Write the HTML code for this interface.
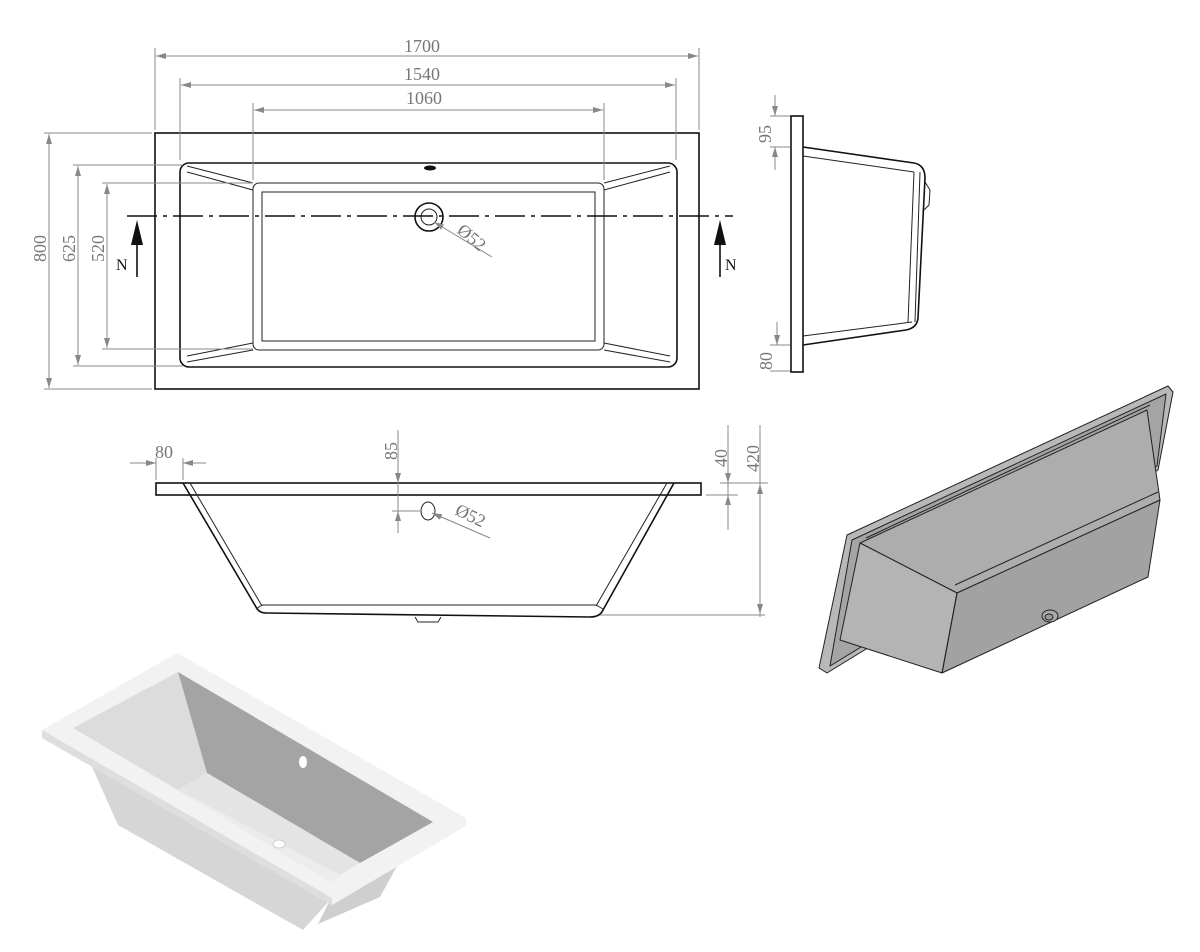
<!DOCTYPE html>
<html><head><meta charset="utf-8"><style>
html,body{margin:0;padding:0;background:#fff;}
svg{display:block;}
.d{stroke:#888;stroke-width:1;fill:none;}
.t{font-family:"Liberation Serif",serif;font-size:18px;fill:#777;}
.k{stroke:#111;stroke-width:1.6;fill:none;}
.k1{stroke:#222;stroke-width:1;fill:none;}
</style></head><body>
<svg width="1200" height="952" viewBox="0 0 1200 952" xmlns="http://www.w3.org/2000/svg">
<defs>
<marker id="a" viewBox="0 0 10 6" refX="10" refY="3" markerWidth="10" markerHeight="6" orient="auto-start-reverse"><path d="M0,0L10,3L0,6z" fill="#888"/></marker>
</defs>
<!-- TOP VIEW -->
<rect x="155" y="133" width="544" height="256" class="k"/>
<rect x="180" y="163" width="497" height="204" rx="9" class="k"/>
<rect x="253" y="183" width="351" height="167" rx="6" class="k1"/>
<rect x="262" y="192" width="333" height="149" class="k1"/>
<path class="k1" d="M187,166L253,183 M187,172L253,190 M670,166L604,183 M670,172L604,190 M187,362L253,350 M187,356L253,343 M670,362L604,350 M670,356L604,343"/>
<ellipse cx="430" cy="168" rx="6" ry="2.5" fill="#111"/>
<circle cx="429" cy="217" r="14" class="k"/><circle cx="429" cy="217" r="8" class="k1"/>
<path d="M127,216H733" stroke="#111" stroke-width="1.6" stroke-dasharray="30,6,4,6"/>
<line x1="492" y1="257" x2="434" y2="222" class="d" marker-end="url(#a)"/>
<text class="t" transform="translate(456,232) rotate(40)">Ø52</text>
<path d="M137,277V232" stroke="#111" stroke-width="1.6"/><path d="M131,245L137,220L143,245z" fill="#111"/>
<text x="116" y="270" font-family="Liberation Serif" font-size="16" fill="#111">N</text>
<path d="M720,277V232" stroke="#111" stroke-width="1.6"/><path d="M714,245L720,220L726,245z" fill="#111"/>
<text x="725" y="270" font-family="Liberation Serif" font-size="16" fill="#111">N</text>
<!-- dims top -->
<path class="d" d="M155,130V48 M699,130V48 M180,160V78 M676,160V78 M253,180V103 M604,180V103"/>
<line x1="156" y1="56" x2="698" y2="56" class="d" marker-start="url(#a)" marker-end="url(#a)"/>
<line x1="181" y1="85" x2="675" y2="85" class="d" marker-start="url(#a)" marker-end="url(#a)"/>
<line x1="254" y1="110" x2="603" y2="110" class="d" marker-start="url(#a)" marker-end="url(#a)"/>
<text class="t" x="404" y="52">1700</text>
<text class="t" x="404" y="80">1540</text>
<text class="t" x="406" y="104">1060</text>
<path class="d" d="M44,133H152 M44,389H152 M73,165H183 M73,366H183 M102,183H253 M102,349H253"/>
<line x1="49" y1="134" x2="49" y2="388" class="d" marker-start="url(#a)" marker-end="url(#a)"/>
<line x1="78" y1="166" x2="78" y2="365" class="d" marker-start="url(#a)" marker-end="url(#a)"/>
<line x1="107" y1="184" x2="107" y2="348" class="d" marker-start="url(#a)" marker-end="url(#a)"/>
<text class="t" transform="translate(46,262) rotate(-90)">800</text>
<text class="t" transform="translate(75,262) rotate(-90)">625</text>
<text class="t" transform="translate(104,262) rotate(-90)">520</text>
<!-- SIDE VIEW -->
<rect x="791" y="116" width="12" height="256" class="k"/>
<path class="k" d="M803,147L914,163Q925,165 925,178L918,318Q917,328 906,330L803,345"/>
<path class="k1" d="M803,156L914,172 M803,336L912,322 M914,172L908,322 M920,172L915,322"/>
<path class="k1" d="M925,182L930,190L929,205L924,210"/>
<path class="d" d="M770,116H790 M770,147H790 M770,345H790 M770,371H790"/>
<line x1="775" y1="95" x2="775" y2="116" class="d" marker-end="url(#a)"/>
<line x1="775" y1="170" x2="775" y2="147" class="d" marker-end="url(#a)"/>
<line x1="777" y1="322" x2="777" y2="345" class="d" marker-end="url(#a)"/>
<text class="t" transform="translate(771,143) rotate(-90)">95</text>
<text class="t" transform="translate(772,370) rotate(-90)">80</text>
<!-- FRONT VIEW -->
<rect x="156" y="483" width="545" height="12" class="k"/>
<path class="k" d="M183,483L256,607Q259,613 266,613L590,617Q600,617 603,610L674,483"/>
<path class="k1" d="M190,483L262,606 M667,483L596,606 M262,605H596 M262,605L256,609 M596,605L603,609"/>
<path class="k1" d="M415,617L418,622H438L441,617"/>
<ellipse cx="428" cy="511" rx="7" ry="9" class="k1"/>
<line x1="490" y1="538" x2="432" y2="513" class="d" marker-end="url(#a)"/>
<text class="t" transform="translate(454,514) rotate(26)">Ø52</text>
<path class="d" d="M156,480V458 M183,480V458 M398,430V533 M392,511H420 M720,483H768 M706,495H738 M600,615H765 M728,425V530 M760,425V617"/>
<line x1="130" y1="463" x2="156" y2="463" class="d" marker-end="url(#a)"/>
<line x1="206" y1="463" x2="183" y2="463" class="d" marker-end="url(#a)"/>
<line x1="398" y1="460" x2="398" y2="483" class="d" marker-end="url(#a)"/>
<line x1="398" y1="530" x2="398" y2="511" class="d" marker-end="url(#a)"/>
<line x1="728" y1="462" x2="728" y2="483" class="d" marker-end="url(#a)"/>
<line x1="728" y1="518" x2="728" y2="495" class="d" marker-end="url(#a)"/>
<line x1="760" y1="484" x2="760" y2="614" class="d" marker-start="url(#a)" marker-end="url(#a)"/>
<text class="t" x="155" y="458">80</text>
<text class="t" transform="translate(397,460) rotate(-90)">85</text>
<text class="t" transform="translate(727,467) rotate(-90)">40</text>
<text class="t" transform="translate(759,472) rotate(-90)">420</text>
<!-- ISO DARK -->
<g stroke="#222" stroke-width="1" stroke-linejoin="round">
<polygon points="847,535 1168,386 1173,392 1158,470 827,673 819,668" fill="#b8b8b8"/>
<polygon points="852,540 1166,394 1157,466 830,666" fill="#a4a4a4"/>
<polygon points="860,543 1147,410 1160,500 957,593" fill="#adadad"/>
<polygon points="957,593 1160,500 1148,577 942,673" fill="#a2a2a2"/>
<polygon points="860,543 957,593 942,673 840,640" fill="#b4b4b4"/>
<path d="M866,538L1150,405 M955,585L1158,492 M957,593L942,673" fill="none"/>
<ellipse cx="1050" cy="616" rx="8" ry="6" fill="#aaa"/><ellipse cx="1049" cy="617" rx="4" ry="3" fill="#999"/>
</g>
<!-- ISO WHITE -->
<g stroke="none">
<polygon points="88,758 330,900 303,930 118,825" fill="#d6d6d6"/>
<polygon points="330,900 397,866 380,897 318,924" fill="#cfcfcf"/>
<polygon points="42,730 177,653 466,818 466,826 332,905 42,738" fill="#f2f2f2"/>
<polygon points="42,730 332,898 332,905 42,738" fill="#dedede"/>
<polygon points="73,728 178,672 207,773 178,790" fill="#dcdcdc"/>
<polygon points="178,672 433,822 360,863 207,773" fill="#a4a4a4"/>
<polygon points="178,790 207,773 360,863 340,875" fill="#e4e4e4"/>
<polygon points="73,728 178,790 340,875 330,882" fill="#ececec"/>
<ellipse cx="303" cy="762" rx="4" ry="6" fill="#fff"/>
<ellipse cx="279" cy="844" rx="6" ry="4" fill="#fff" stroke="#ccc"/>
</g>
</svg>
</body></html>
